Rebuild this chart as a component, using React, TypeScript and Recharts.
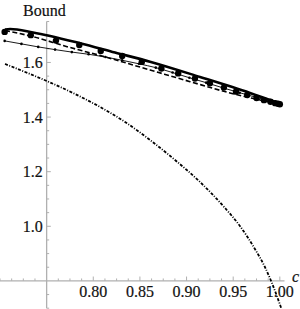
import React from 'react';
import { LineChart, Line, XAxis, YAxis, ReferenceLine, ReferenceDot } from 'recharts';

// Thick solid bound
const thickX = [0.7054, 0.7108, 0.7354, 0.7858, 0.8233, 0.8608, 0.9144, 0.968, 1.0];
const thickY = [1.7209, 1.7227, 1.7099, 1.6703, 1.6363, 1.6029, 1.5469, 1.4883, 1.4498];

// Large dots
const dotX = [0.705, 0.733, 0.760, 0.785, 0.808, 0.831, 0.852, 0.873, 0.891, 0.909, 0.925, 0.940, 0.953, 0.965, 0.975, 0.983, 0.990, 0.995, 0.998, 1.0];
const dotY = [1.712, 1.700, 1.680, 1.664, 1.642, 1.624, 1.602, 1.578, 1.560, 1.541, 1.524, 1.508, 1.493, 1.481, 1.470, 1.462, 1.456, 1.451, 1.449, 1.447];

// Dashed bound
const dashX = [0.7054, 0.7354, 0.7719, 0.8072, 0.8608, 0.9038, 0.9466, 0.9787, 1.0];
const dashY = [1.7172, 1.6945, 1.6579, 1.6256, 1.5725, 1.5297, 1.4883, 1.4626, 1.4462];

// Thin line with small markers
const thinX = [0.705, 0.723, 0.741, 0.759, 0.777, 0.795, 0.813, 0.831, 0.849, 0.867, 0.885, 0.903, 0.921, 0.939, 0.957, 0.975, 0.993, 1.0];
const thinY = [1.679, 1.668, 1.657, 1.647, 1.638, 1.630, 1.620, 1.608, 1.595, 1.581, 1.563, 1.544, 1.526, 1.507, 1.489, 1.472, 1.455, 1.448];

// Dot-dashed lower bound
const ddX = [0.7054, 0.7269, 0.75, 0.7804, 0.8072, 0.834, 0.8608, 0.8876, 0.9144, 0.9412, 0.9572, 0.9733, 0.984, 0.9915, 1.0022];
const ddY = [1.5945, 1.5652, 1.5322, 1.4846, 1.437, 1.3821, 1.3161, 1.2429, 1.1623, 1.067, 1.0011, 0.9168, 0.8509, 0.7923, 0.6934];

// Axes and ticks
const xDomain = [0.70, 1.005];
const yDomain = [0.70, 1.75];
const axisX = 0.75;
const axisY = 0.8;
const xMajor = [0.80, 0.85, 0.90, 0.95, 1.00];
const xLabels = ['0.80', '0.85', '0.90', '0.95', '1.00'];
const xMinor = [0.7, 0.7125, 0.725, 0.7375, 0.7625, 0.775, 0.7875, 0.8125, 0.825, 0.8375, 0.8625, 0.875, 0.8875, 0.9125, 0.925, 0.9375, 0.9625, 0.975, 0.9875];
const yMajor = [1.0, 1.2, 1.4, 1.6];
const yLabels = ['1.0', '1.2', '1.4', '1.6'];
const yMinor = [0.70, 0.75, 0.85, 0.90, 0.95, 1.05, 1.10, 1.15, 1.25, 1.30, 1.35, 1.45, 1.50, 1.55, 1.65, 1.70, 1.75];

const zip = (xs: number[], ys: number[]) => xs.map((x, i) => ({ x, y: ys[i] }));

const AX = '#b0b0b0';
const FONT = 'Liberation Serif';

export default function App() {
  const labelStyle = { fontSize: 16, fill: '#111', stroke: '#111', strokeWidth: 0.2, fontFamily: FONT, style: { fontFamily: FONT } };
  return (
    <div style={{ position: 'absolute', left: 0, top: 0, width: 300, height: 309, background: '#fff', fontFamily: FONT }}>
      <style>{`.recharts-wrapper text, svg text { font-family: 'Liberation Serif' !important; }`}</style>
      <LineChart width={300} height={309} margin={{ top: 21.5, right: 15.5, bottom: 0.8, left: 0 }}>
        <XAxis hide type="number" dataKey="x" domain={xDomain} allowDataOverflow />
        <YAxis hide type="number" domain={yDomain} allowDataOverflow />
        <ReferenceLine y={axisY} stroke={AX} strokeWidth={1.3} />
        <ReferenceLine x={axisX} stroke={AX} strokeWidth={1.3} />
        {xMinor.map((v) => (
          <ReferenceLine key={'xm' + v} segment={[{ x: v, y: axisY }, { x: v, y: axisY + 0.009 }]} stroke={AX} ifOverflow="visible" />
        ))}
        {xMajor.map((v) => (
          <ReferenceLine key={'xM' + v} segment={[{ x: v, y: axisY }, { x: v, y: axisY + 0.016 }]} stroke={AX} ifOverflow="visible" />
        ))}
        {yMinor.map((v) => (
          <ReferenceLine key={'ym' + v} segment={[{ x: axisX, y: v }, { x: axisX + 0.0027, y: v }]} stroke={AX} ifOverflow="visible" />
        ))}
        {yMajor.map((v) => (
          <ReferenceLine key={'yM' + v} segment={[{ x: axisX, y: v }, { x: axisX + 0.0045, y: v }]} stroke={AX} ifOverflow="visible" />
        ))}
        {xMajor.map((v, i) => (
          <ReferenceDot key={'xl' + v} x={v} y={axisY} r={0.01} fill="none" stroke="none" ifOverflow="visible"
            label={{ value: xLabels[i], position: 'bottom', offset: 5, ...labelStyle }} />
        ))}
        {yMajor.map((v, i) => (
          <ReferenceDot key={'yl' + v} x={axisX} y={v} r={0.01} fill="none" stroke="none" ifOverflow="visible"
            label={{ value: yLabels[i], position: 'left', offset: 4, ...labelStyle }} />
        ))}
        <Line data={zip(ddX, ddY)} dataKey="y" type="monotone" stroke="#000" strokeWidth={1.8} strokeDasharray="3 1.5 1 1.5" dot={false} isAnimationActive={false} />
        <Line data={zip(dashX, dashY)} dataKey="y" type="monotone" stroke="#000" strokeWidth={1.6} strokeDasharray="5 2.5" dot={false} isAnimationActive={false} />
        <Line data={zip(thinX, thinY)} dataKey="y" type="monotone" stroke="#000" strokeWidth={0.9} dot={{ r: 1.3, fill: '#000', stroke: 'none' }} isAnimationActive={false} />
        <Line data={zip(thickX, thickY)} dataKey="y" type="monotone" stroke="#000" strokeWidth={2.6} dot={false} isAnimationActive={false} />
        <Line data={zip(dotX, dotY)} dataKey="y" stroke="none" dot={{ r: 3.2, fill: '#000', stroke: 'none' }} isAnimationActive={false} />
      </LineChart>
      <svg width={300} height={309} style={{ position: 'absolute', left: 0, top: 0, pointerEvents: 'none' }}>
        <text x={23} y={16} fontSize={16} fill="#111" stroke="#111" strokeWidth={0.2} fontFamily={FONT}>Bound</text>
        <text x={292} y={282} fontSize={16} fontStyle="italic" fill="#111" stroke="#111" strokeWidth={0.2} fontFamily={FONT}>c</text>
      </svg>
    </div>
  );
}
